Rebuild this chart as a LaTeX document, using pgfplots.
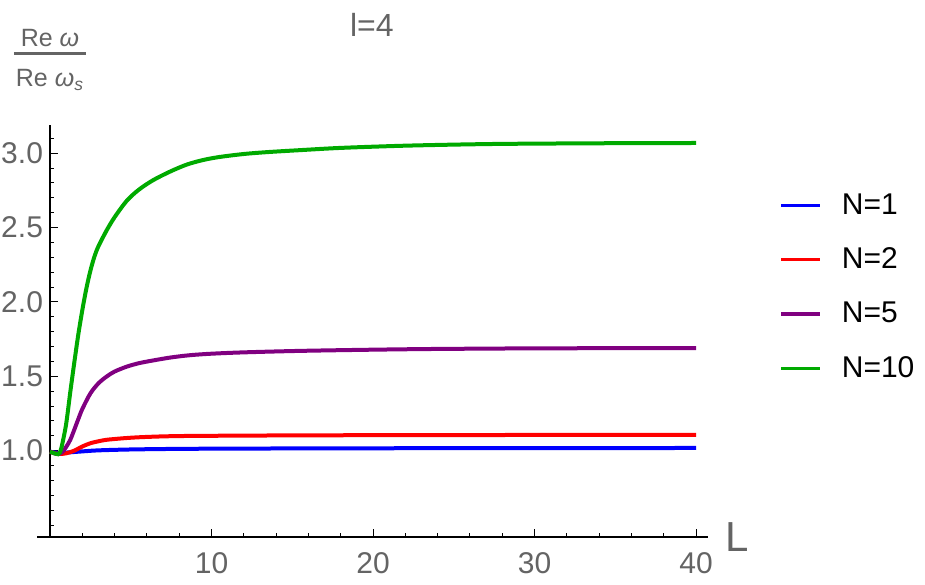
\documentclass[border=0pt]{standalone}
\usepackage{fontspec}
\setmainfont{Liberation Sans}
\usepackage{pgfplots}
\pgfplotsset{compat=1.18}
\definecolor{lgray}{RGB}{100,100,100}
\definecolor{mblue}{RGB}{0,0,255}
\definecolor{mred}{RGB}{255,0,0}
\definecolor{mpurple}{RGB}{128,0,128}
\definecolor{mgreen}{RGB}{0,170,0}
\begin{document}
\begin{tikzpicture}
\path[use as bounding box] (-18.55pt,-23.55pt) rectangle (443.95pt,268.45pt);
\begin{axis}[
  at={(0,0)}, anchor=south west,
  x=8.075pt, y=74.35pt,
  xmin=-0.8, xmax=40.75, ymin=0.42, ymax=3.19,
  axis x line=bottom, axis y line=middle,
  axis line style={-, line width=1pt, black},
  xtick={10,20,30,40},
  minor xtick={2,4,6,8,12,14,16,18,22,24,26,28,32,34,36,38},
  ytick={1,1.5,2,2.5,3},
  minor ytick={0.5,0.6,0.7,0.8,0.9,1.1,1.2,1.3,1.4,1.6,1.7,1.8,1.9,2.1,2.2,2.3,2.4,2.6,2.7,2.8,2.9,3.1},
  tick align=inside,
  major tick length=4pt, minor tick length=2.2pt,
  every tick/.style={black, line width=0.5pt},
  /pgf/number format/assume math mode=true,
  ticklabel style={font=\fontsize{15}{18}\selectfont, text=lgray},
  yticklabel style={/pgf/number format/.cd, fixed, fixed zerofill, precision=1},
  xticklabel style={yshift=-4.5pt},
  every axis title/.style={at={(0.499,1.2428)}, anchor=center, font=\fontsize{16}{19}\selectfont, text=lgray},
  title={l=4},
  every axis x label/.style={at={(1.0431,0)}, anchor=center, font=\fontsize{21}{24}\selectfont, text=lgray},
  xlabel={L},
  every axis y label/.style={at={(0.0192,1.156)}, anchor=center, font=\fontsize{12.5}{15}\selectfont, text=lgray, inner sep=0pt},
  ylabel={\setlength{\arrayrulewidth}{1.3pt}\begin{tabular}{@{\hspace{1pt}}c@{\hspace{1pt}}}Re \textit{ω}\\[-2pt]\hline\rule{0pt}{16pt}Re \textit{ω}\textsubscript{\textit{s}}\end{tabular}},
  legend style={at={(1.1057,0.6067)}, anchor=west, draw=none, fill=none, inner sep=0pt,
    font=\fontsize{15}{18}\selectfont, row sep=15.3pt, column sep=0pt,
    nodes={inner sep=0pt, outer sep=0pt},
    /tikz/every odd column/.append style={column sep=10pt}},
  legend cell align=left,
  legend image code/.code={\draw[#1, line width=1.7pt] (0pt,0pt) -- (19.5pt,0pt);},
  clip=false,
]
\addplot[mblue, line width=2pt, smooth, tension=0.5] coordinates {
(0,0.993) (0.5,0.985) (1.0,0.987) (2,0.995) (3,1.002) (5,1.008) (8,1.012) (12,1.014) (20,1.016) (30,1.017) (40,1.018)};
\addlegendentry{N=1}
\addplot[mred, line width=2pt, smooth, tension=0.5] coordinates {
(0,0.993) (0.5,0.978) (1.0,0.982) (1.5,1.0) (2.0,1.028) (2.5,1.05) (3.0,1.063) (3.5,1.073) (4.5,1.083) (5.5,1.09) (7,1.096) (8.67,1.099) (11.76,1.101) (16,1.103) (25,1.105) (40,1.106)};
\addlegendentry{N=2}
\addplot[mpurple, line width=2pt, smooth, tension=0.5] coordinates {
(0,0.993) (0.25,0.983) (0.5,0.977) (0.75,0.99) (1.0,1.025) (1.25,1.072) (1.5,1.14) (1.75,1.212) (2.0,1.28) (2.5,1.385) (3.0,1.453) (3.5,1.498) (4.0,1.532) (4.75,1.565) (5.5,1.588) (6.3,1.605) (7.5,1.627) (8.67,1.642) (10,1.652) (12,1.661) (15.5,1.671) (20,1.679) (24,1.684) (30,1.688) (35,1.689) (40,1.69)};
\addlegendentry{N=5}
\addplot[mgreen, line width=2pt, smooth, tension=0.5] coordinates {
(0,0.993) (0.25,0.983) (0.5,0.976) (0.62,0.99) (0.75,1.04) (1.0,1.18) (1.25,1.39) (1.5,1.59) (1.75,1.78) (2.0,1.945) (2.25,2.09) (2.5,2.21) (2.75,2.305) (3.0,2.375) (3.5,2.48) (4.0,2.57) (4.75,2.68) (5.5,2.755) (6.4,2.82) (7.5,2.88) (8.5,2.925) (9.5,2.955) (10.5,2.975) (12,2.995) (13.5,3.008) (15.5,3.021) (18,3.036) (21.7,3.05) (25,3.058) (28,3.063) (32,3.066) (36,3.068) (40,3.069)};
\addlegendentry{N=10}
\end{axis}
\end{tikzpicture}
\end{document}
